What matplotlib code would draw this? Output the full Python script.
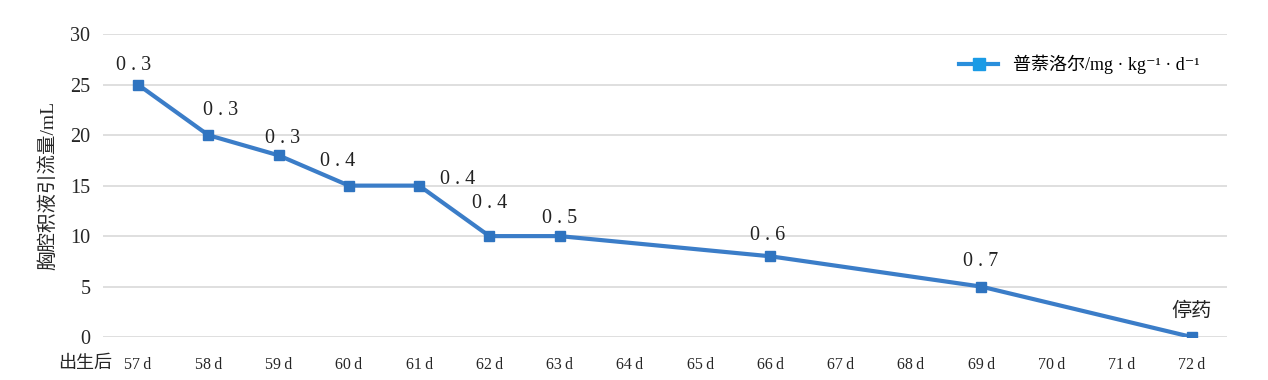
import matplotlib
matplotlib.use("Agg")
import matplotlib.pyplot as plt

fam = ['Liberation Serif', 'Noto Sans CJK SC', 'DejaVu Sans']
plt.rcParams['font.family'] = fam

days = [57, 58, 59, 60, 61, 62, 63, 66, 69, 72]
volume = [25, 20, 18, 15, 15, 10, 10, 8, 5, 0]
dose = ['0 . 3', '0 . 3', '0 . 3', '0 . 4', '0 . 4', '0 . 4', '0 . 5', '0 . 6', '0 . 7', '停药']
# label offsets in pixels (dx, dy)
offsets = [(-5, 19), (12, 25), (4, 17), (-11, 24), (39, 6), (0, 33), (0, 18), (-3, 21), (-1, 25), (0, 25)]
all_days = list(range(57, 73))
tick_labels = [f'{d}\u2009d' for d in all_days]

fig = plt.figure(figsize=(12.68, 3.8), dpi=100)
ax = fig.add_axes([0.0812, 0.113, 0.8865, 0.797])

line_color = '#3b7dc8'
ax.plot(days, volume, color=line_color, lw=3, marker='s', ms=7,
        mfc='#2f74c0', mec='#2f74c0', label='普萘洛尔/mg · kg⁻¹ · d⁻¹', zorder=3)

for d, v, t, (dx, dy) in zip(days, volume, dose, offsets):
    ax.annotate(t, (d, v), xytext=(dx, dy), textcoords='offset pixels',
                ha='center', va='center', fontsize=14.5, color='#222222')

ax.set_xlim(56.5, 72.5)
ax.set_ylim(0, 30)
ax.set_yticks(range(0, 31, 5))
ax.set_xticks(all_days)
ax.set_xticklabels(tick_labels, fontsize=11.5)
ax.tick_params(axis='y', labelsize=14.5, length=0, pad=9, colors='#262626')
ax.tick_params(axis='x', length=0, pad=14, colors='#262626')
ax.grid(axis='y', color='#d9d9d9', lw=1.2)
ax.set_axisbelow(True)
for s in ax.spines.values():
    s.set_visible(False)

ax.set_ylabel('胸腔积液引流量/mL', fontsize=14, color='#262626', labelpad=9)
fig.text(85 / 1268, 1 - 363 / 380, '出生后', fontsize=13, ha='center', va='center', color='#262626')

leg = ax.legend(loc='upper right', frameon=False, fontsize=13, handlelength=2.2,
                bbox_to_anchor=(0.99, 0.985))
for h in leg.legend_handles:
    h.set_color('#2a8fdc')
    h.set_markerfacecolor('#1a9be6')
    h.set_markeredgecolor('#1a9be6')
    h.set_markersize(9)

fig.savefig('out.png', dpi=100)
